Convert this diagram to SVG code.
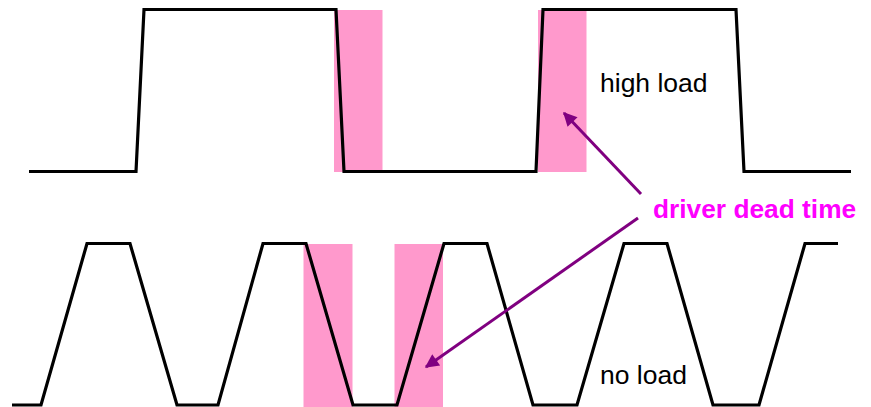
<svg xmlns="http://www.w3.org/2000/svg" width="871" height="407" viewBox="0 0 871 407">
<defs>
<style>
.pink{fill:#FF99CC;stroke:none}
.wave{fill:none;stroke:#000;stroke-width:3.2;stroke-linejoin:miter}
.arrow{fill:none;stroke:#800080;stroke-width:3}
.lbl{font-family:"Liberation Sans",Arial,sans-serif;font-size:26.5px;fill:#000}
.dead{font-family:"Liberation Sans",Arial,sans-serif;font-size:26.3px;font-weight:bold;fill:#FF00FF}
</style>
<marker id="ah" viewBox="0 0 10 10" refX="9" refY="5" markerWidth="5.2" markerHeight="4.6" markerUnits="strokeWidth" orient="auto">
<path d="M0,0 L10,5 L0,10 z" fill="#800080"/>
</marker>
</defs>
<g id="shading">
<rect class="pink" x="334" y="10" width="48.5" height="162"/>
<rect class="pink" x="538" y="10" width="48.5" height="162"/>
<rect class="pink" x="303.5" y="244" width="49" height="163"/>
<rect class="pink" x="394.5" y="244" width="48.5" height="163"/>
</g>
<g id="high-load-wave">
<polyline class="wave" points="29,171.5 136,171.5 144,9.5 336,9.5 344,171.5 536,171.5 543,9.5 736,9.5 744,171.5 851,171.5"/>
</g>
<g id="no-load-wave">
<polyline class="wave" points="12,405 41,405 87,243.5 130,243.5 177,405 218,405 263,243.5 306,243.5 353,405 397,405 444,243.5 487,243.5 533,405 577,405 624,243.5 667,243.5 713,405 759,405 805,243.5 838,243.5"/>
</g>
<g id="labels">
<text class="lbl" x="600" y="92">high load</text>
<text class="lbl" x="600" y="384">no load</text>
</g>
<g id="dead-time-label">
<text class="dead" x="653" y="218">driver dead time</text>
</g>
<g id="connectors">
<line class="arrow" x1="641" y1="194" x2="564" y2="113" marker-end="url(#ah)"/>
<line class="arrow" x1="638" y1="218" x2="426" y2="367" marker-end="url(#ah)"/>
</g>
</svg>
